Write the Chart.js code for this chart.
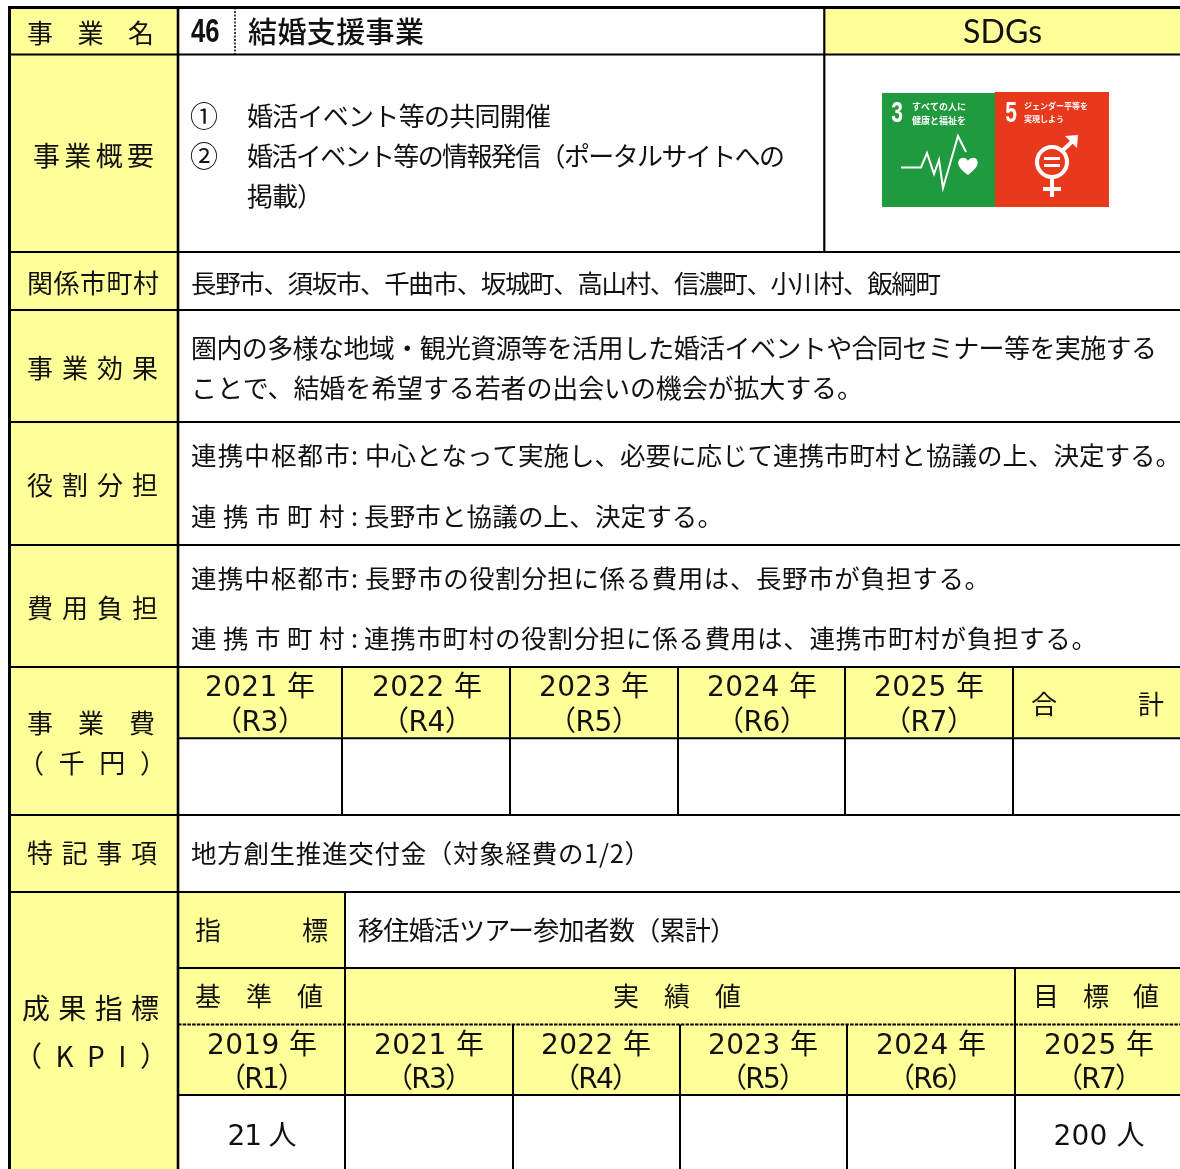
<!DOCTYPE html>
<html lang="ja">
<head>
    <meta charset="UTF-8">
    <script src="https://cdn.jsdelivr.net/npm/chart.js@4"></script>
    <title>結婚支援事業</title>
    <style>
        html, body { margin: 0; padding: 0; background: #fff; }
        canvas { display: block; }
    </style>
</head>
<body>
    <canvas id="sheet" width="1180" height="1169"></canvas>

    <script>
        // table contents
        const rowHeads = ["事業名", "事業概要", "関係市町村", "事業効果", "役割分担", "費用負担", "特記事項"];
        const costHead = ["事業費", "（千円）"];
        const kpiHead = ["成果指標", "（KPI）"];
        const projectNo = "46";
        const projectName = "結婚支援事業";
        const sdgHead = "SDGs";
        const outline = ["①", "婚活イベント等の共同開催", "②", "婚活イベント等の情報発信（ポータルサイトへの", "掲載）"];
        const cities = "長野市、須坂市、千曲市、坂城町、高山村、信濃町、小川村、飯綱町";
        const effects = ["圏内の多様な地域・観光資源等を活用した婚活イベントや合同セミナー等を実施する", "ことで、結婚を希望する若者の出会いの機会が拡大する。"];
        const partyA = "連携中枢都市:";
        const partyB = "連携市町村:";
        const roles = ["中心となって実施し、必要に応じて連携市町村と協議の上、決定する。", "長野市と協議の上、決定する。"];
        const costs = ["長野市の役割分担に係る費用は、長野市が負担する。", "連携市町村の役割分担に係る費用は、連携市町村が負担する。"];
        const note = "地方創生推進交付金（対象経費の1/2）";
        const costYears = ["2021 年", "2022 年", "2023 年", "2024 年", "2025 年"];
        const costEras = ["（R3）", "（R4）", "（R5）", "（R6）", "（R7）"];
        const totalHead = "合計";
        const kpiName = ["指標", "移住婚活ツアー参加者数（累計）"];
        const kpiGroups = ["基準値", "実績値", "目標値"];
        const kpiYears = ["2019 年", "2021 年", "2022 年", "2023 年", "2024 年", "2025 年"];
        const kpiEras = ["（R1）", "（R3）", "（R4）", "（R5）", "（R6）", "（R7）"];
        const kpiValues = [21, 200];
        const kpiUnit = " 人";
        const sdg3 = ["3", "すべての人に", "健康と福祉を"];
        const sdg5 = ["5", "ジェンダー平等を", "実現しよう"];

        // grid edges, in sheet units
        const L = 9.5, T = 7.5, R = 1180, B = 1169;
        const headX = 178, splitX = 824.3, noX = 235;
        const rowY = [54.5, 252, 310, 422, 545, 667, 738.3, 815, 892, 968, 1024.5, 1095];
        const costX = [342, 510, 678, 845, 1013];
        const kpiX = [345, 513, 680, 847, 1015];

        const YELLOW = "#ffff99";
        const LINE = "#000";
        const INK = "#111";
        const JP = '"Noto Sans CJK JP"';
        const WIDE = '"DejaVu Sans", "Noto Sans CJK JP"';

        const yellowRects = [
            [L, T, headX, B],
            [splitX, T, R, rowY[0]],
            [headX, rowY[5], R, rowY[6]],
            [headX, rowY[8], kpiX[0], rowY[9]],
            [headX, rowY[9], R, rowY[11]]
        ];
        const iconRects = [
            [882, 93, 995, 207, "#1f9a3e"],
            [995, 92, 1109, 207, "#e8391c"]
        ];

        // [x0, y0, x1, y1, width, dash]
        const rules = [
            [L, T, L, B, 3],
            [L - 1.5, T, R, T, 3],
            [headX, T, headX, B, 2.6],
            [splitX, T, splitX, rowY[1], 2.2],
            [noX, T, noX, rowY[0], 1.5, [2, 1.5]]
        ];
        const fullRows = [0, 1, 2, 3, 4, 5, 7, 8];
        fullRows.forEach(i => rules.push([L, rowY[i], R, rowY[i], 2.2]));
        rules.push([headX, rowY[6], R, rowY[6], 2]);
        rules.push([headX, rowY[9], R, rowY[9], 2]);
        rules.push([headX, rowY[10], R, rowY[10], 2, [3.5, 1.2]]);
        rules.push([headX, rowY[11], R, rowY[11], 2]);
        costX.forEach(x => rules.push([x, rowY[5], x, rowY[7], 2]));
        rules.push([kpiX[0], rowY[8], kpiX[0], B, 2]);
        rules.push([kpiX[4], rowY[9], kpiX[4], B, 2]);
        kpiX.slice(1, 4).forEach(x => rules.push([x, rowY[10], x, B, 2]));

        function rectSet(r, color) {
            return {
                data: [{x: r[0], y: r[1]}, {x: r[2], y: r[1]}, {x: r[2], y: r[3]}, {x: r[0], y: r[3]}, {x: r[0], y: r[1]}],
                showLine: true, fill: "shape", backgroundColor: color, borderWidth: 0, pointRadius: 0, tension: 0
            };
        }
        function ruleSet(r) {
            return {
                data: [{x: r[0], y: r[1]}, {x: r[2], y: r[3]}],
                showLine: true, fill: false, borderColor: LINE, borderWidth: r[4], borderDash: r[5] || [],
                borderCapStyle: "butt", pointRadius: 0
            };
        }

        // text items: stretched by letter spacing to run from x0 to x1 around centre y
        const texts = [];
        function put(text, x0, x1, y, size, family) {
            texts.push({text, x0, x1, y, font: typeof size === "string" ? size : `${size}px ${family || JP}`});
        }
        function center(text, cx, w, y, size) {
            put(text, cx - w / 2, cx + w / 2, y, size, WIDE);
        }

        put(rowHeads[0], 27, 154, 33, 26);
        texts.push({text: projectNo, x0: 191, y: 33, squeeze: 0.78, font: 'bold 33px "Liberation Sans"'});
        put(projectName, 248, 424, 32, `500 29px ${JP}`);
        put(sdgHead, 963, 1042, 33, "32px Lato");
        put(rowHeads[1], 33, 154, 156, 27);
        put(outline[0], 190, 218, 116, 28);
        put(outline[1], 247, 551, 116, 26);
        put(outline[2], 190, 218, 156, 28);
        put(outline[3], 247, 785, 156, 26);
        put(outline[4], 247, 323, 196, 26);
        put(rowHeads[2], 27, 159, 283, 26);
        put(cities, 191, 941, 283, 25.5);
        put(rowHeads[3], 27, 158, 368, 26);
        put(effects[0], 191, 1157, 348, 26);
        put(effects[1], 191, 863, 388, 26);
        put(rowHeads[4], 27, 158, 485, 26);
        put(partyA, 191, 358, 455, 25.5);
        put(roles[0], 365, 1181, 455, 25.5);
        put(partyB, 191, 358, 516, 25.5);
        put(roles[1], 364, 723, 516, 25.5);
        put(rowHeads[5], 27, 158, 608, 26);
        put(partyA, 191, 358, 578, 25.5);
        put(costs[0], 365, 990, 578, 25.5);
        put(partyB, 191, 358, 638, 25.5);
        put(costs[1], 364, 1097, 638, 25.5);
        put(costHead[0], 27, 155, 723, 26);
        put(costHead[1], 18, 166, 763, 26);
        [260, 427, 594, 762, 929].forEach((cx, i) => {
            center(costYears[i], cx, 110, 689, 28);
            center(costEras[i], cx, 92, 724, 28);
        });
        put(totalHead, 1031, 1164, 704, 26);
        put(rowHeads[6], 27, 157, 853, 26);
        put(note, 191, 650, 853, 25.5);
        put(kpiHead[0], 22, 159, 1008, 28);
        put(kpiHead[1], 14, 168, 1056, 28);
        put(kpiName[0], 195, 328, 930, 26);
        put(kpiName[1], 358, 736, 930, 26);
        put(kpiGroups[0], 195, 323, 996, 26);
        put(kpiGroups[1], 613, 741, 996, 26);
        put(kpiGroups[2], 1033, 1159, 996, 26);
        [262, 429, 596, 763, 931, 1099].forEach((cx, i) => {
            center(kpiYears[i], cx, 110, 1047, 28);
            center(kpiEras[i], cx, 88, 1081, 28);
        });
        center(kpiValues[0] + kpiUnit, 262, 69, 1138, 28);
        center(kpiValues[1] + kpiUnit, 1099, 91, 1138, 28);

        const iconTexts = [
            [sdg3[0], 897, 114, 'bold 30px "Liberation Sans"', 0.7],
            [sdg3[1], 912, 107, `bold 9px ${JP}`, 1],
            [sdg3[2], 912, 121, `bold 9px ${JP}`, 1],
            [sdg5[0], 1011, 114, 'bold 30px "Liberation Sans"', 0.7],
            [sdg5[1], 1024, 106, `bold 8px ${JP}`, 1],
            [sdg5[2], 1024, 119, `bold 8px ${JP}`, 1]
        ];

        const pulse = [[901, 167.5], [921, 167.5], [927, 153], [934, 174], [939, 160], [943, 188], [958, 136], [966, 152]];

        const sheetPlugin = {
            id: "sheet",
            afterDatasetsDraw(chart) {
                const ctx = chart.ctx;
                const sx = v => chart.scales.x.getPixelForValue(v);
                const sy = v => chart.scales.y.getPixelForValue(v);
                ctx.save();
                ctx.textBaseline = "middle";
                ctx.textAlign = "left";
                ctx.fillStyle = INK;
                for (const t of texts) {
                    ctx.font = t.font;
                    ctx.letterSpacing = "0px";
                    if (t.squeeze) {
                        ctx.save();
                        ctx.translate(sx(t.x0), sy(t.y));
                        ctx.scale(t.squeeze, 1);
                        ctx.fillText(t.text, 0, 0);
                        ctx.restore();
                        continue;
                    }
                    const w = ctx.measureText(t.text).width;
                    const n = Array.from(t.text).length;
                    const gap = n > 1 ? ((t.x1 - t.x0) - w) / (n - 1) : 0;
                    ctx.letterSpacing = gap + "px";
                    ctx.fillText(t.text, sx(t.x0), sy(t.y));
                }
                ctx.letterSpacing = "0px";

                // SDG icons
                ctx.fillStyle = "#fff";
                ctx.strokeStyle = "#fff";
                for (const t of iconTexts) {
                    ctx.font = t[3];
                    ctx.textAlign = t[0].length === 1 ? "center" : "left";
                    ctx.save();
                    ctx.translate(sx(t[1]), sy(t[2]));
                    ctx.scale(t[4], 1);
                    ctx.fillText(t[0], 0, 0);
                    ctx.restore();
                }
                ctx.lineWidth = 2;
                ctx.lineJoin = "miter";
                ctx.beginPath();
                pulse.forEach((p, i) => i ? ctx.lineTo(sx(p[0]), sy(p[1])) : ctx.moveTo(sx(p[0]), sy(p[1])));
                ctx.stroke();
                // heart
                ctx.beginPath();
                ctx.moveTo(sx(968), sy(175));
                ctx.bezierCurveTo(sx(958), sy(168), sx(957), sy(163), sx(959), sy(160));
                ctx.bezierCurveTo(sx(962), sy(156), sx(967), sy(158), sx(968), sy(161));
                ctx.bezierCurveTo(sx(969), sy(158), sx(975), sy(156), sx(977), sy(160));
                ctx.bezierCurveTo(sx(979), sy(164), sx(977), sy(168), sx(968), sy(175));
                ctx.fill();
                // gender symbol
                ctx.lineWidth = 4;
                ctx.beginPath();
                ctx.arc(sx(1052), sy(162), 15, 0, Math.PI * 2);
                ctx.stroke();
                ctx.beginPath();
                ctx.moveTo(sx(1052), sy(177));
                ctx.lineTo(sx(1052), sy(197));
                ctx.moveTo(sx(1043), sy(189));
                ctx.lineTo(sx(1061), sy(189));
                ctx.moveTo(sx(1062), sy(151));
                ctx.lineTo(sx(1075), sy(139));
                ctx.stroke();
                ctx.beginPath();
                ctx.moveTo(sx(1065), sy(136));
                ctx.lineTo(sx(1078), sy(135));
                ctx.lineTo(sx(1077), sy(148));
                ctx.closePath();
                ctx.fill();
                ctx.fillRect(sx(1044), sy(157), 16, 3);
                ctx.fillRect(sx(1044), sy(164), 16, 3);
                ctx.restore();
            }
        };

        new Chart(document.getElementById("sheet"), {
            type: "scatter",
            data: {
                datasets: [
                    ...rules.map(ruleSet),
                    ...iconRects.map(r => rectSet(r, r[4])),
                    ...yellowRects.map(r => rectSet(r, YELLOW))
                ]
            },
            options: {
                responsive: false,
                animation: false,
                layout: {padding: 0},
                plugins: {legend: {display: false}, tooltip: {enabled: false}},
                scales: {
                    x: {type: "linear", min: 0, max: 1180, display: false},
                    y: {type: "linear", min: 0, max: 1169, reverse: true, display: false}
                }
            },
            plugins: [sheetPlugin]
        });
    </script>
</body>
</html>
